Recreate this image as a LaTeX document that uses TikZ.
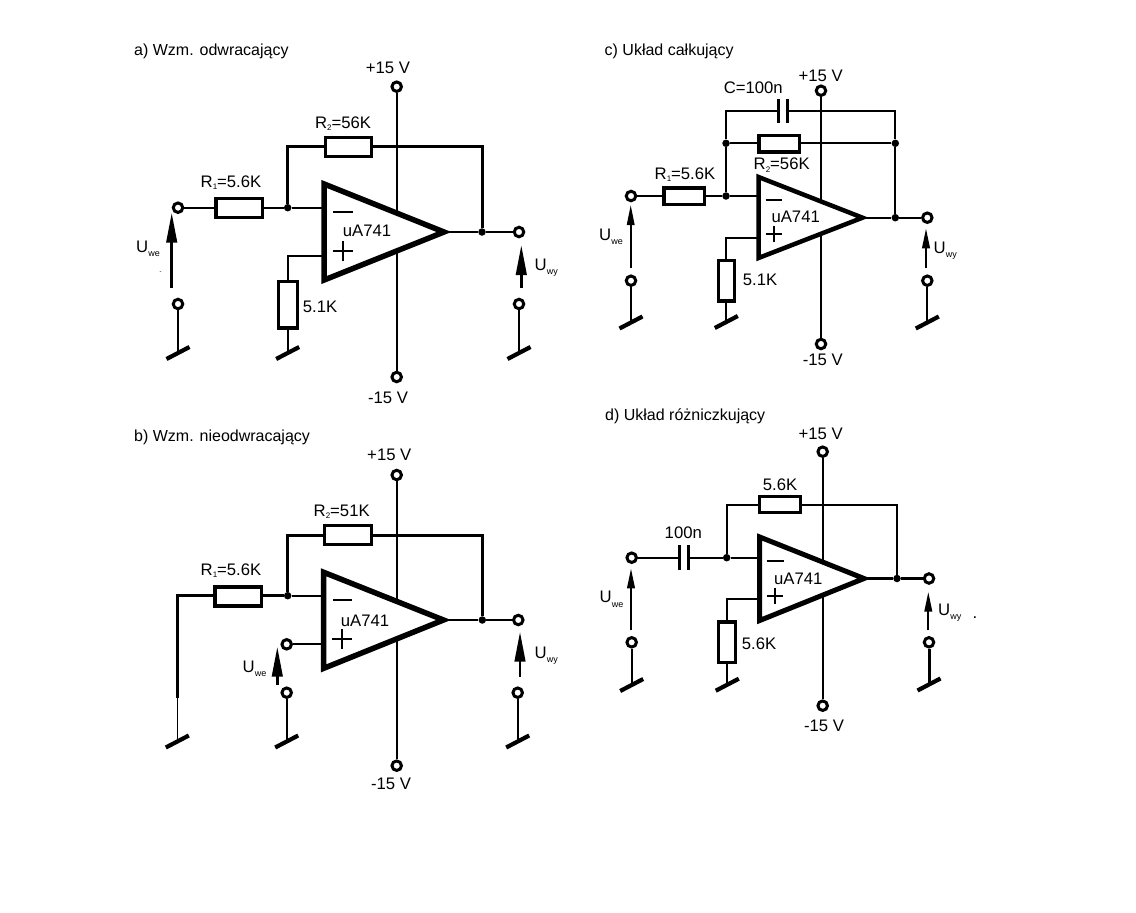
\documentclass[tikz,border=0pt]{standalone}
\usepackage{fontspec}
\setmainfont{Liberation Sans}
\usetikzlibrary{arrows.meta}
\newcommand\lsub[1]{\raisebox{-2.5pt}{\fontsize{8}{8}\selectfont #1}}
\newcommand\usub[1]{\raisebox{-4.5pt}{\fontsize{9}{9}\selectfont #1}}
\tikzset{
  txt/.style={inner sep=0pt,yshift=-0.8pt,font=\fontsize{16.7}{18}\selectfont,text=black},
  title/.style={inner sep=0pt,yshift=-1.5pt,font=\fontsize{16}{18}\selectfont,text=black,anchor=west},
  term/.style={circle,draw=black,line width=3pt,minimum size=9.5pt,inner sep=0pt,fill=white},
  jdot/.style={circle,fill=black,minimum size=7.5pt,inner sep=0pt},
  res/.style={rectangle,draw=black,line width=3.2pt,fill=white,inner sep=0pt,minimum width=#1},
  res/.default=46.5pt,
  wthin/.style={line width=1.5pt},
  wmid/.style={line width=2.1pt},
  wthick/.style={line width=3pt},
  opamp/.style={line width=#1,miter limit=10},
  gtick/.style={line width=4.2pt},
  plate/.style={line width=3.4pt},
  sign/.style={line width=2.2pt},
  uarrow/.style={line width=#1,-{Triangle[length=30pt,width=10.5pt]}},
  uarrows/.style={line width=#1,-{Triangle[length=20pt,width=7.5pt]}},
}
\newcommand\gnd[3]{\coordinate (#1) at (#2,#3);
  \draw[gtick] ([shift={(-11.5,6)}]#1) -- ([shift={(11.5,-6)}]#1);}
\begin{document}
\begin{tikzpicture}[x=1pt,y=-1pt]
\useasboundingbox (0,0) rectangle (1136,913);
\fill[white] (0,0) rectangle (1136,913);

%% ---------- panel a
\node[title] (a-title) at (134,50) {a) Wzm. odwracający};
\coordinate (a-tl) at (324.2,184); \coordinate (a-bl) at (324.2,280); \coordinate (a-tip) at (444,232);
\coordinate (a-s1) at (396.7,213.3); \coordinate (a-s2) at (396.7,250.7);
\coordinate (a-in) at (324.2,207.7); \coordinate (a-ip) at (324.2,256);
\node[term] (a-vp) at (396.7,86.7) {};
\node[term] (a-vn) at (396.7,377) {};
\node[term] (a-i1) at (178,207.7) {};
\node[term] (a-i2) at (178,304) {};
\node[term] (a-o1) at (519,232) {};
\node[term] (a-o2) at (519,304) {};
\node[jdot] (a-d1) at (287.7,207.7) {};
\node[jdot] (a-d2) at (482,232) {};
\coordinate (a-c1) at (287.7,146.7); \coordinate (a-c2) at (482,146.7); \coordinate (a-c3) at (287.7,256);
\gnd{a-g1}{178}{353} \gnd{a-g2}{287.7}{353} \gnd{a-g3}{519}{353}
\draw[wmid] (a-vp) -- (a-s1); \draw[wmid] (a-s2) -- (a-vn);
\draw[wthin] (a-i2) -- (a-g1);
\draw[wmid] (a-o2) -- (a-g3);
\draw[wmid] (a-i1) -- (a-d1) -- (a-in);
\draw[wmid] (a-ip) -- (a-c3) -- (a-g2);
\draw[wthick] (a-d1) -- (a-c1) -- (a-c2) -- (a-d2);
\draw[wthin] (a-tip) -- (a-d2) -- (a-o1);
\node[res,minimum height=19pt] (a-r2) at (348.5,147.3) {};
\node[res,minimum height=19pt] (a-r1) at (239.3,208.3) {};
\node[res=19pt,minimum height=46.5pt] (a-r3) at (288,304.7) {};
\draw[opamp=5.5pt] (a-tl) -- (a-bl) -- (a-tip) -- cycle;
\draw[sign] (333.3,211.7) coordinate (a-m1) -- (352.7,211.7) coordinate (a-m2);
\draw[sign] (332.7,251) coordinate (a-p1) -- (352.7,251) coordinate (a-p2) (342.7,241) coordinate (a-p3) -- (342.7,261) coordinate (a-p4);
\coordinate (a-u1) at (171.7,288); \coordinate (a-u2) at (171.7,212.7);
\draw[uarrow=2.8pt] (a-u1) -- (a-u2);
\coordinate (a-u3) at (521.3,288); \coordinate (a-u4) at (521.3,245);
\draw[uarrow=2.8pt] (a-u3) -- (a-u4);
\node[txt] (a-t1) at (388,67.5) {+15 V};
\node[txt] (a-t2) at (388,397) {-15 V};
\node[txt] (a-t3) at (343,123) {R\lsub{2}=56K};
\node[txt] (a-t4) at (231,182) {R\lsub{1}=5.6K};
\node[txt] (a-t5) at (367,230) {uA741};
\node[txt] (a-t6) at (320,306) {5.1K};
\node[txt,anchor=west] (a-t7) at (136,248) {U\usub{we}};
\node[txt,anchor=west] (a-t8) at (534.5,267) {U\usub{wy}};
\node[inner sep=0pt,font=\fontsize{6}{6}\selectfont] (a-t9) at (160.7,273) {-};

%% ---------- panel b
\node[title] (b-title) at (134,436) {b) Wzm. nieodwracający};
\coordinate (b-tl) at (323.7,572.3); \coordinate (b-bl) at (323.7,668.3); \coordinate (b-tip) at (443.5,620);
\coordinate (b-s1) at (396.7,601.6); \coordinate (b-s2) at (396.7,639);
\coordinate (b-in) at (323.7,595.7); \coordinate (b-ip) at (323.7,644.3);
\node[term] (b-vp) at (396.7,475) {};
\node[term] (b-vn) at (396.7,765.7) {};
\node[term] (b-i1) at (286.7,644.3) {};
\node[term] (b-i2) at (286.7,692.7) {};
\node[term] (b-o1) at (518.3,620) {};
\node[term] (b-o2) at (517.7,692.7) {};
\node[jdot] (b-d1) at (287.7,595.7) {};
\node[jdot] (b-d2) at (482.3,620) {};
\coordinate (b-c1) at (287.7,535); \coordinate (b-c2) at (482.3,535);
\coordinate (b-c3) at (177.3,595.7); \coordinate (b-c4) at (177.3,696.7);
\gnd{b-g1}{177.3}{741.5} \gnd{b-g2}{286.7}{741.5} \gnd{b-g3}{517.7}{741.5}
\draw[wmid] (b-vp) -- (b-s1); \draw[wmid] (b-s2) -- (b-vn);
\draw[wthick,line cap=rect] (b-c3) -- (b-c4);
\draw[wthin] (b-c4) -- (b-g1);
\draw[wthick] (b-c3) -- (b-d1);
\draw[wmid] (b-d1) -- (b-in);
\draw[wmid] (b-i1) -- (b-ip);
\draw[wmid] (b-i2) -- (b-g2);
\draw[wmid] (b-o2) -- (b-g3);
\draw[wthick] (b-d1) -- (b-c1) -- (b-c2) -- (b-d2);
\draw[wmid] (b-tip) -- (b-d2) -- (b-o1);
\node[res,minimum height=19pt] (b-r2) at (348,535.2) {};
\node[res,minimum height=19pt] (b-r1) at (238.3,596.5) {};
\draw[opamp=5.5pt] (b-tl) -- (b-bl) -- (b-tip) -- cycle;
\draw[sign] (333,600) coordinate (b-m1) -- (352,600) coordinate (b-m2);
\draw[sign] (332.3,639) coordinate (b-p1) -- (352.3,639) coordinate (b-p2) (342.3,629) coordinate (b-p3) -- (342.3,649) coordinate (b-p4);
\coordinate (b-u1) at (277.3,685); \coordinate (b-u2) at (277.3,646.7);
\draw[uarrow=2.8pt] (b-u1) -- (b-u2);
\coordinate (b-u3) at (520,676.7); \coordinate (b-u4) at (520,631.7);
\draw[uarrow=2.8pt] (b-u3) -- (b-u4);
\node[txt] (b-t1) at (389.3,454.3) {+15 V};
\node[txt] (b-t2) at (391,783.5) {-15 V};
\node[txt] (b-t3) at (341.7,511) {R\lsub{2}=51K};
\node[txt] (b-t4) at (231,570) {R\lsub{1}=5.6K};
\node[txt] (b-t5) at (365,620) {uA741};
\node[txt,anchor=west] (b-t7) at (242.5,668) {U\usub{we}};
\node[txt,anchor=west] (b-t8) at (534.5,655) {U\usub{wy}};

%% ---------- panel c
\node[title] (c-title) at (604.5,50) {c) Układ całkujący};
\coordinate (c-tl) at (758.5,177); \coordinate (c-bl) at (758.5,258); \coordinate (c-tip) at (862.5,217.7);
\coordinate (c-s1) at (821,201.6); \coordinate (c-s2) at (821,233.4);
\coordinate (c-in) at (758.5,196); \coordinate (c-ip) at (758.5,238);
\node[term] (c-vp) at (821,90.7) {};
\node[term] (c-vn) at (821,344) {};
\node[term] (c-i1) at (631,196) {};
\node[term] (c-i2) at (631,280.7) {};
\node[term] (c-o1) at (927.3,217.7) {};
\node[term] (c-o2) at (927.3,280.7) {};
\node[jdot] (c-d1) at (726,196) {};
\node[jdot] (c-d2) at (726,143.3) {};
\node[jdot] (c-d3) at (895.3,143.3) {};
\node[jdot] (c-d4) at (895.3,217.7) {};
\coordinate (c-c1) at (726,111); \coordinate (c-c2) at (895.3,111); \coordinate (c-c3) at (726.3,238);
\coordinate (c-cl) at (778.3,111); \coordinate (c-cr) at (787.7,111);
\gnd{c-g1}{631}{322.5} \gnd{c-g2}{726.3}{322} \gnd{c-g3}{927.3}{322.5}
\draw[wmid] (c-vp) -- (c-s1); \draw[wmid] (c-s2) -- (c-vn);
\draw[wmid] (c-i2) -- (c-g1);
\draw[wmid] (c-o2) -- (c-g3);
\draw[wmid] (c-i1) -- (c-d1) -- (c-in);
\draw[wmid] (c-ip) -- (c-c3) -- (c-g2);
\draw[wmid] (c-d1) -- (c-d2);
\draw[wmid] (c-d2) -- (c-c1) -- (c-cl);
\draw[wmid] (c-cr) -- (c-c2) -- (c-d3);
\draw[wmid] (c-d2) -- (c-d3) -- (c-d4);
\draw[wmid] (c-tip) -- (c-d4) -- (c-o1);
\draw[plate] ([yshift=-12pt]c-cl) -- ([yshift=12.5pt]c-cl);
\draw[plate] ([yshift=-12pt]c-cr) -- ([yshift=12.5pt]c-cr);
\node[res=40.5pt,minimum height=16.5pt] (c-r2) at (779.3,143.8) {};
\node[res=40.5pt,minimum height=16.5pt] (c-r1) at (684.2,196.2) {};
\node[res=16.5pt,minimum height=40.5pt] (c-r3) at (726.5,280.7) {};
\draw[opamp=4.5pt] (c-tl) -- (c-bl) -- (c-tip) -- cycle;
\draw[sign] (765.7,200) coordinate (c-m1) -- (782.3,200) coordinate (c-m2);
\draw[sign] (765.7,234) coordinate (c-p1) -- (781.7,234) coordinate (c-p2) (773.7,226) coordinate (c-p3) -- (773.7,242) coordinate (c-p4);
\coordinate (c-u1) at (630.7,268.3); \coordinate (c-u2) at (630.7,205);
\draw[uarrows=1.7pt] (c-u1) -- (c-u2);
\coordinate (c-u3) at (926,268.3); \coordinate (c-u4) at (926,228.3);
\draw[uarrows=2.2pt] (c-u3) -- (c-u4);
\node[txt] (c-t1) at (820.7,75) {+15 V};
\node[txt] (c-t2) at (822.7,359.5) {-15 V};
\node[txt] (c-t3) at (753.3,86.7) {C=100n};
\node[txt] (c-t4) at (781.7,164.3) {R\lsub{2}=56K};
\node[txt] (c-t5) at (685,174) {R\lsub{1}=5.6K};
\node[txt] (c-t6) at (795.7,216) {uA741};
\node[txt] (c-t7) at (760,279.3) {5.1K};
\node[txt,anchor=west] (c-t8) at (599,236) {U\usub{we}};
\node[txt,anchor=west] (c-t9) at (933.5,250) {U\usub{wy}};

%% ---------- panel d
\node[title] (d-title) at (605,415) {d) Układ różniczkujący};
\coordinate (d-tl) at (759.7,537); \coordinate (d-bl) at (759.7,620.5); \coordinate (d-tip) at (864,578.5);
\coordinate (d-s1) at (822.7,562.3); \coordinate (d-s2) at (822.7,594.7);
\coordinate (d-in) at (759.7,557.7); \coordinate (d-ip) at (759.7,599);
\node[term] (d-vp) at (822.7,451.7) {};
\node[term] (d-vn) at (822.7,705.7) {};
\node[term] (d-i1) at (631.7,557.7) {};
\node[term] (d-i2) at (631.7,642.3) {};
\node[term] (d-o1) at (929,578.5) {};
\node[term] (d-o2) at (929,642.3) {};
\node[jdot] (d-d1) at (726.7,557.7) {};
\node[jdot] (d-d2) at (897,578.5) {};
\coordinate (d-c1) at (726.7,504.7); \coordinate (d-c2) at (897,504.7); \coordinate (d-c3) at (727.3,599);
\coordinate (d-cl) at (679.3,557.7); \coordinate (d-cr) at (688.7,557.7);
\gnd{d-g1}{631.7}{685} \gnd{d-g2}{727.3}{684.7} \gnd{d-g3}{929}{684.5}
\draw[wmid] (d-vp) -- (d-s1); \draw[wmid] (d-s2) -- (d-vn);
\draw[wmid] (d-i2) -- (d-g1);
\draw[wthick] (d-o2) -- (d-g3);
\draw[wmid] (d-i1) -- (d-cl);
\draw[wmid] (d-cr) -- (d-d1) -- (d-in);
\draw[wmid] (d-ip) -- (d-c3) -- (d-g2);
\draw[wmid] (d-d1) -- (d-c1) -- (d-c2) -- (d-d2);
\draw[wmid] (d-tip) -- (d-d2) -- (d-o1);
\draw[plate] ([yshift=-12.5pt]d-cl) -- ([yshift=12.5pt]d-cl);
\draw[plate] ([yshift=-12.5pt]d-cr) -- ([yshift=12.5pt]d-cr);
\node[res=41pt,minimum height=16.5pt] (d-r2) at (780.3,504.5) {};
\node[res=16.5pt,minimum height=40.5pt] (d-r3) at (727,642.3) {};
\draw[opamp=5pt] (d-tl) -- (d-bl) -- (d-tip) -- cycle;
\draw[sign] (766.7,561) coordinate (d-m1) -- (784,561) coordinate (d-m2);
\draw[sign] (767.3,595.7) coordinate (d-p1) -- (783.3,595.7) coordinate (d-p2) (775.3,587.7) coordinate (d-p3) -- (775.3,603.7) coordinate (d-p4);
\coordinate (d-u1) at (631,630); \coordinate (d-u2) at (631,568.3);
\draw[uarrows=2.2pt] (d-u1) -- (d-u2);
\coordinate (d-u3) at (928.3,630); \coordinate (d-u4) at (928.3,591.7);
\draw[uarrows=2.2pt] (d-u3) -- (d-u4);
\node[txt] (d-t1) at (820.7,433.3) {+15 V};
\node[txt] (d-t2) at (824,725) {-15 V};
\node[txt] (d-t3) at (780,484.3) {5.6K};
\node[txt] (d-t4) at (683.3,532.3) {100n};
\node[txt] (d-t5) at (798.3,577.7) {uA741};
\node[txt] (d-t6) at (759,642.7) {5.6K};
\node[txt,anchor=west] (d-t7) at (599.5,598.3) {U\usub{we}};
\node[txt,anchor=west] (d-t8) at (938,611.7) {U\usub{wy}};
\node[txt] (d-t9) at (975,617) {.};
\end{tikzpicture}
\end{document}
